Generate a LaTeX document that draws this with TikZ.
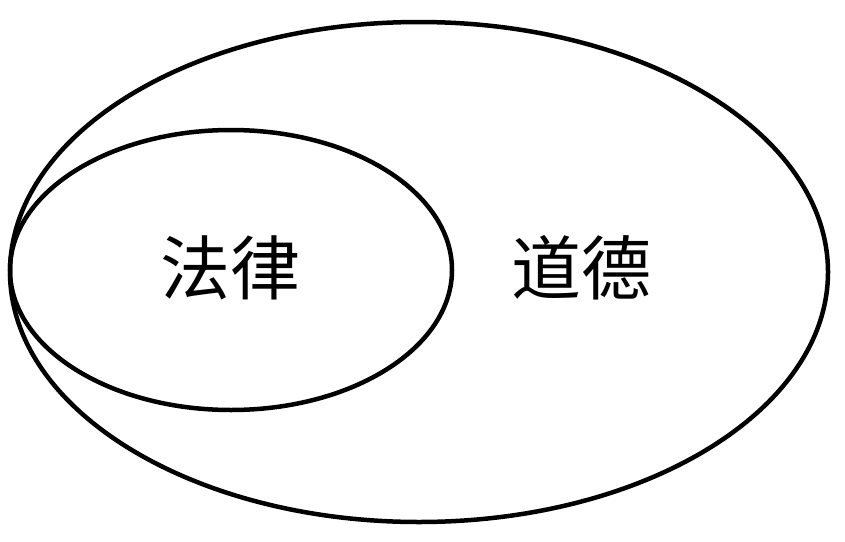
\documentclass[tikz,border=0pt]{standalone}
\usepackage{fontspec}
\newfontfamily\cjk{Noto Sans CJK SC}
\begin{document}
\begin{tikzpicture}[x=1pt,y=-1pt,
  ring/.style={draw=black,line width=4.5pt},
  lbl/.style={font=\cjk\fontsize{70}{74}\selectfont,inner sep=0pt}]
\useasboundingbox[fill=white] (0,0) rectangle (845,541);
\draw[ring] (419,272) ellipse [x radius=409, y radius=250];
\draw[ring] (231,270) ellipse [x radius=221, y radius=140];
\node[lbl] (law) at (230,268) {法律};
\node[lbl] (moral) at (581,268) {道德};
\end{tikzpicture}
\end{document}
